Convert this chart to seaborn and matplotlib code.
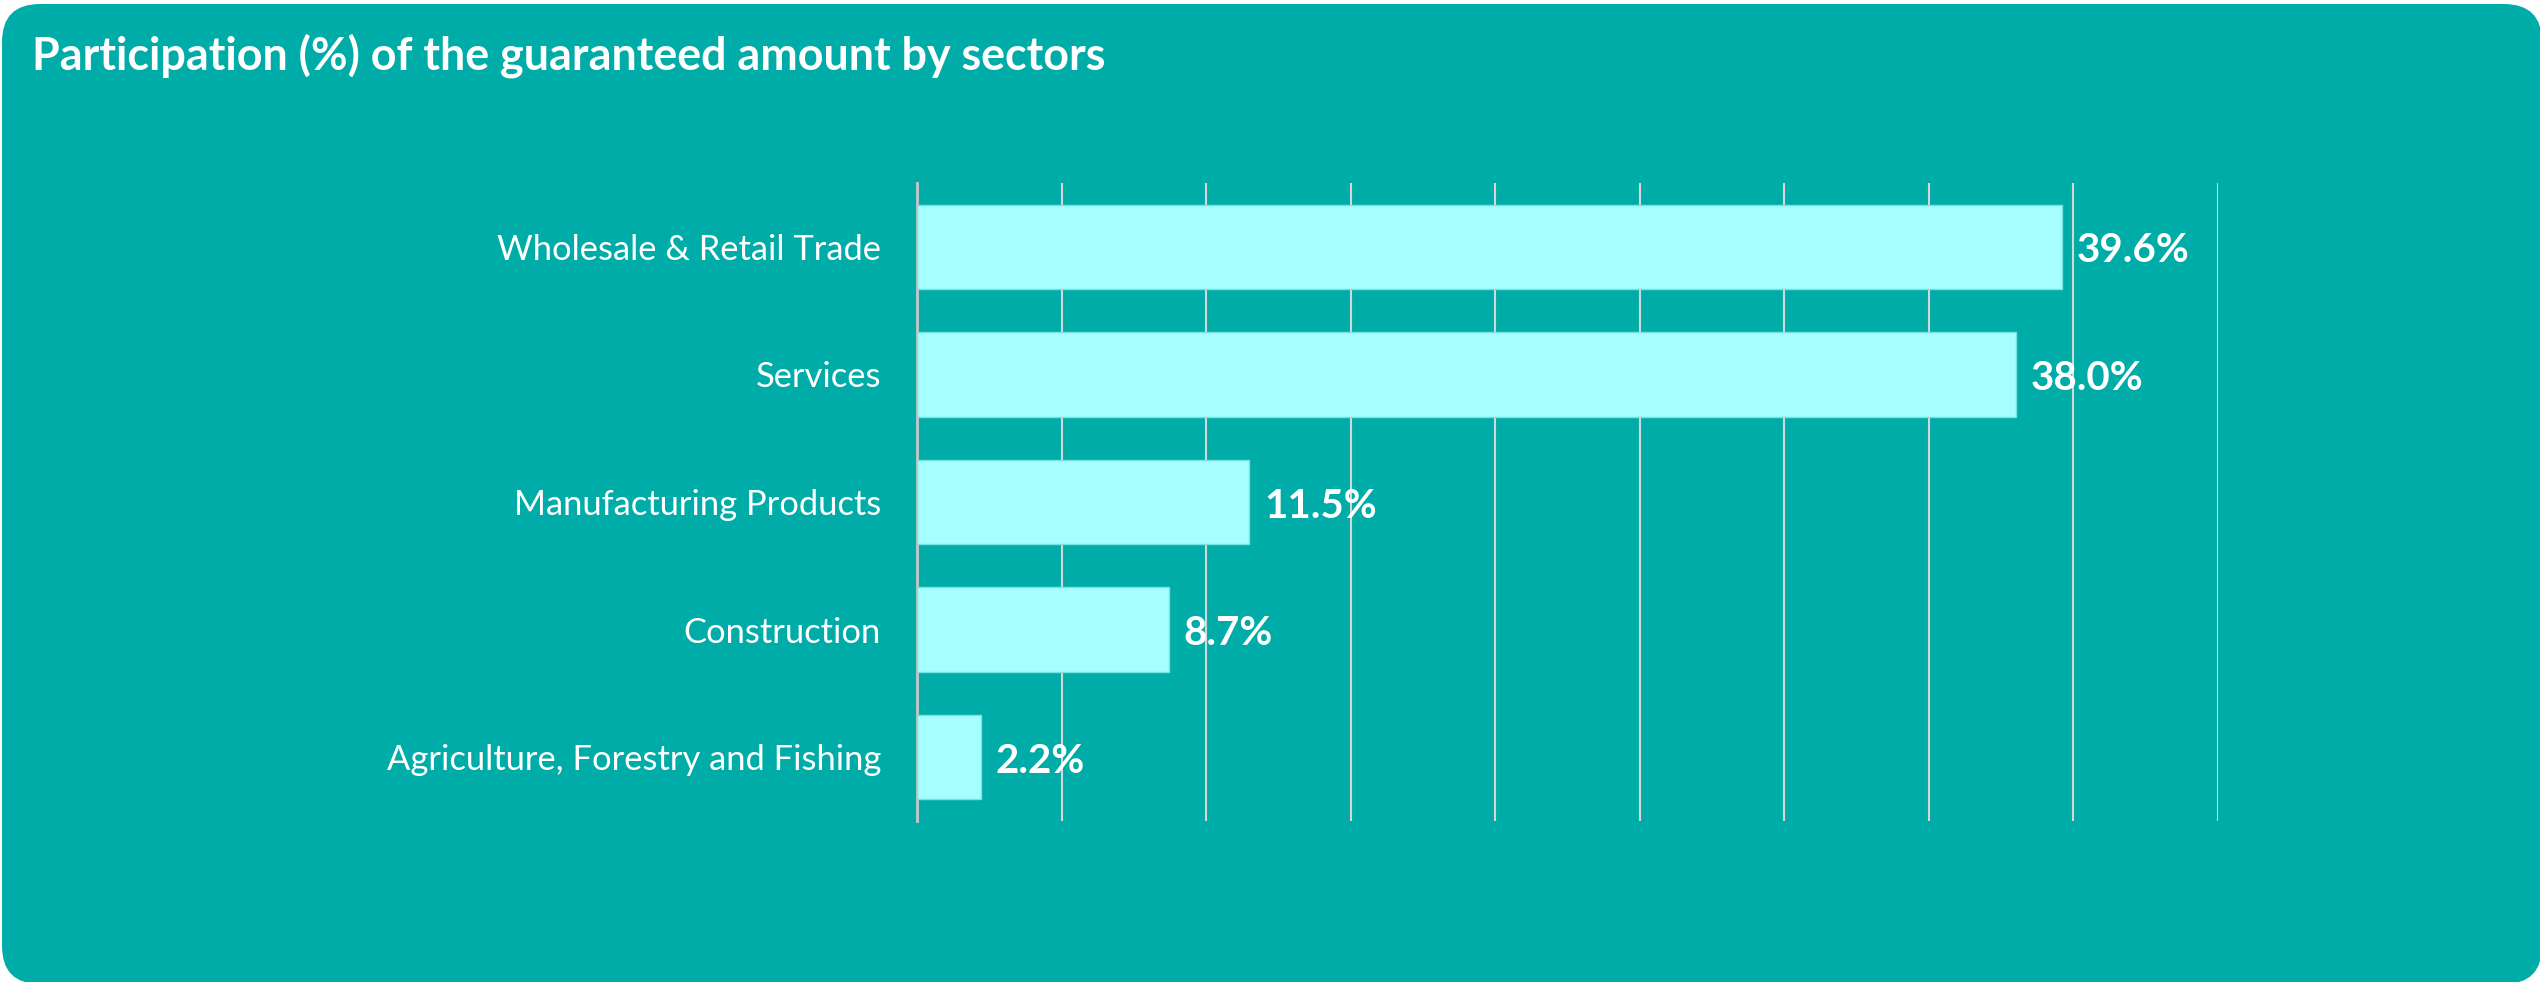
import matplotlib
matplotlib.use("Agg")
import matplotlib.pyplot as plt
import seaborn as sns
import pandas as pd
from matplotlib.patches import FancyBboxPatch
from matplotlib.transforms import IdentityTransform

# data
sectors = [
    "Wholesale & Retail Trade",
    "Services",
    "Manufacturing Products",
    "Construction",
    "Agriculture, Forestry and Fishing",
]
share = [39.6, 38.0, 11.5, 8.7, 2.2]
title = "Participation (%) of the guaranteed amount by sectors"

TEAL = "#00ACA8"
BAR = "#A6FFFE"
GRID = "#D6D6D6"

sns.set_theme(style="white")
plt.rcParams["font.family"] = ["Lato", "DejaVu Sans"]

df = pd.DataFrame({"sector": sectors, "share": share})

fig = plt.figure(figsize=(25.4, 9.82), dpi=100)
fig.patch.set_facecolor("white")

# rounded teal panel, drawn in pixel coordinates
panel = FancyBboxPatch((2, -2), 2540, 980,
                       boxstyle="round,pad=0,rounding_size=38",
                       transform=IdentityTransform(),
                       facecolor=TEAL, edgecolor="none", zorder=-10)
fig.patches.append(panel)

ax = fig.add_axes([917 / 2540, 1 - 821 / 982, (2218 - 917) / 2540, (821 - 183) / 982])
ax.set_facecolor("none")
ax.set_zorder(5)

sns.barplot(data=df, x="share", y="sector", orient="h", color=BAR,
            width=0.66, edgecolor="#78E2DE", linewidth=1.0, saturation=1,
            ax=ax, zorder=3)

ax.set_xlim(0, 45)
ax.set_ylim(4.5, -0.5)
ax.set_xticks(range(0, 50, 5))
ax.set_xticklabels([])
ax.tick_params(axis="x", length=0)
ax.tick_params(axis="y", length=0, pad=26)
ax.xaxis.grid(True, color=GRID, linewidth=1.5, zorder=0)
ax.set_axisbelow(True)
for side in ["top", "right", "bottom"]:
    ax.spines[side].set_visible(False)
ax.spines["left"].set_color("#C8C8C8")
ax.spines["left"].set_linewidth(2)
ax.set_xlabel("")
ax.set_ylabel("")

for lab in ax.get_yticklabels():
    lab.set_color("white")
    lab.set_fontsize(24.8)

for i, v in enumerate(share):
    ax.annotate(f"{v:.1f}%", xy=(v, i), xytext=(11, -3), textcoords="offset points",
                va="center", ha="left", color="white", fontsize=29, fontweight="bold")

fig.text(32 / 2540, 1 - 56 / 982, title, color="white", fontsize=32.3,
         fontweight="bold", va="center", ha="left")

fig.savefig("out.png", dpi=100, facecolor=fig.get_facecolor())
